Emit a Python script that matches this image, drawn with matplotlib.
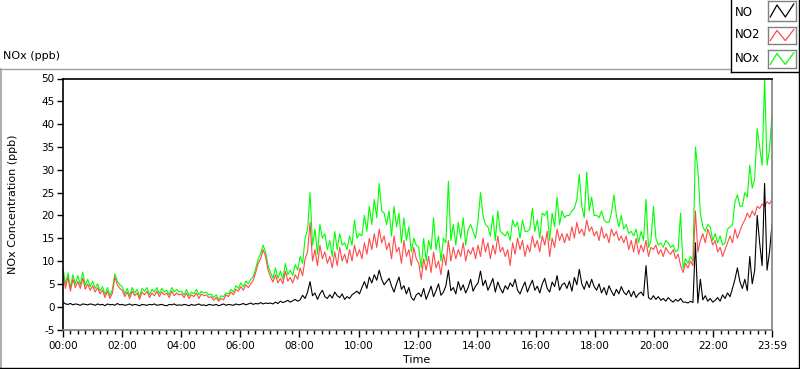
import numpy as np
import matplotlib
matplotlib.use("Agg")
import matplotlib.pyplot as plt
from matplotlib.lines import Line2D

# ---- data (5-minute samples, 12 per hour) ----
no_ppb = [
    1.0,0.6,0.5,0.7,0.4,0.6,0.5,0.3,0.6,0.5,0.4,0.6,
    0.5,0.3,0.6,0.4,0.5,0.2,0.6,0.4,0.5,0.3,0.7,0.4,
    0.5,0.3,0.4,0.6,0.3,0.5,0.4,0.2,0.5,0.4,0.3,0.5,
    0.4,0.6,0.3,0.4,0.5,0.3,0.2,0.5,0.4,0.6,0.3,0.4,
    0.3,0.5,0.4,0.2,0.5,0.3,0.4,0.6,0.3,0.4,0.2,0.5,
    0.4,0.3,0.5,0.2,0.4,0.6,0.3,0.5,0.4,0.3,0.6,0.4,
    0.5,0.7,0.4,0.6,0.8,0.5,0.7,0.6,0.9,0.6,0.8,0.7,
    0.8,0.6,1.0,0.7,1.2,0.9,1.1,1.4,1.0,1.3,1.6,1.2,
    1.5,2.5,1.8,3.2,5.5,2.4,3.0,1.6,2.8,3.6,2.2,1.8,
    2.6,1.9,3.2,2.4,2.0,2.8,1.6,2.2,1.8,2.6,3.0,3.4,
    2.8,4.2,5.5,4.0,6.5,5.2,7.0,5.8,8.0,6.0,4.8,5.5,
    6.2,4.5,3.2,5.0,6.5,3.8,4.6,2.8,4.2,2.0,1.4,2.6,
    3.0,2.2,4.0,1.6,3.0,4.5,2.2,3.5,5.0,2.5,3.2,4.6,
    8.0,3.5,4.2,2.8,5.5,3.6,4.8,3.0,4.2,6.0,3.4,4.5,
    5.2,7.8,4.6,5.8,3.6,4.8,6.2,3.2,5.4,4.0,3.0,4.6,
    3.8,5.2,4.4,6.0,3.6,2.8,4.2,5.4,3.2,4.6,5.8,3.6,
    4.5,3.0,5.0,6.2,4.0,3.2,5.4,4.4,6.8,3.6,4.8,5.2,
    4.0,5.6,3.4,6.4,4.8,8.2,5.0,3.8,5.6,4.2,6.0,4.4,
    3.6,5.0,3.0,4.2,2.6,4.6,3.4,2.4,3.8,2.8,4.4,3.2,
    2.6,3.6,2.2,3.4,2.0,2.8,3.2,2.4,9.0,2.0,1.6,2.4,
    1.6,2.2,1.4,1.8,1.2,2.0,1.4,1.0,1.6,1.2,1.8,1.0,
    1.0,0.8,1.2,0.9,14.0,0.8,6.0,1.5,2.4,1.2,1.8,1.0,
    1.4,2.0,1.2,2.6,1.8,3.0,2.2,4.0,6.0,8.5,5.5,4.0,
    6.0,3.5,11.0,5.0,8.0,20.0,14.0,9.0,27.0,8.0,12.0,18.0,
]

no2_ppb = [
    7.2,4.0,6.5,3.4,6.0,4.2,5.5,4.0,6.2,3.8,5.0,3.6,
    4.6,3.2,4.2,2.8,3.6,2.0,3.4,1.8,3.0,6.5,4.8,4.0,
    3.6,2.2,3.2,1.8,3.4,2.4,3.0,1.6,3.2,2.6,3.4,2.0,
    3.0,2.4,3.4,2.2,3.2,2.6,3.0,2.0,3.4,2.4,3.0,2.6,
    2.8,2.0,3.0,1.8,2.6,2.2,3.0,1.8,2.8,2.4,2.6,2.0,
    2.2,1.4,2.0,1.2,1.8,1.5,2.6,2.2,3.2,2.6,3.8,3.4,
    4.4,3.6,4.8,4.2,5.0,5.8,7.5,9.5,10.5,12.5,11.0,8.0,
    6.5,5.4,7.0,5.2,6.2,5.0,7.8,5.6,6.4,5.2,7.0,6.0,
    8.5,6.8,10.5,12.0,18.5,10.0,12.5,9.0,13.5,10.5,12.0,9.5,
    11.0,8.5,12.0,9.0,13.0,10.0,11.5,9.5,12.5,10.0,13.5,11.0,
    12.5,10.5,14.0,11.5,15.0,12.5,16.0,13.0,17.0,14.0,15.5,12.5,
    14.0,10.5,15.5,12.0,13.0,9.5,14.5,11.0,12.5,9.0,13.0,10.5,
    9.5,6.0,10.5,8.0,11.0,7.5,12.0,8.5,10.0,7.0,11.5,9.0,
    14.5,10.0,13.0,10.5,12.5,11.0,14.0,10.0,12.5,11.5,13.0,10.5,
    13.5,11.0,15.0,12.0,14.0,10.5,13.5,11.5,15.5,12.0,13.0,11.0,
    12.5,9.0,14.0,11.5,15.0,12.5,14.5,11.0,13.5,12.0,15.5,13.0,
    14.5,12.0,15.5,13.5,16.5,11.0,15.0,13.0,17.0,14.5,16.0,14.0,
    16.0,14.5,17.5,15.0,18.5,16.0,17.0,15.5,19.0,16.5,17.5,15.5,
    16.5,14.5,17.5,15.0,16.0,14.0,17.0,15.5,16.5,14.5,15.5,14.0,
    15.5,12.5,14.5,12.0,15.0,11.5,13.5,12.0,14.5,11.0,13.0,12.5,
    13.5,11.5,12.5,11.0,13.0,12.0,11.5,12.5,10.5,11.5,9.0,7.5,
    9.5,8.5,10.0,9.0,21.0,12.0,14.5,16.0,14.0,17.0,15.5,13.5,
    14.5,12.0,13.0,11.0,12.5,14.0,15.5,14.0,17.0,15.0,16.5,18.0,
    19.0,20.5,19.5,21.0,20.0,22.0,21.5,22.5,22.0,23.0,22.5,23.5,
]

nox_ppb = [
    8.6,5.0,7.4,4.2,7.0,5.0,6.8,4.8,7.6,4.6,6.0,4.4,
    5.6,4.0,5.0,3.4,4.4,2.6,4.2,2.4,3.8,7.2,5.6,4.8,
    4.4,2.8,4.0,2.4,4.2,3.0,3.8,2.2,4.0,3.4,4.2,2.6,
    3.8,3.2,4.2,2.8,4.0,3.2,3.6,2.6,4.2,3.2,3.8,3.2,
    3.4,2.6,3.8,2.4,3.2,2.8,3.8,2.6,3.4,3.0,3.2,2.6,
    2.8,2.0,2.6,1.6,2.4,2.2,3.0,2.8,3.8,3.2,4.6,4.0,
    5.2,4.4,5.6,5.0,6.0,6.6,8.4,10.4,11.6,13.5,12.0,9.0,
    7.5,6.2,8.5,6.2,7.8,6.0,9.5,7.0,8.0,6.8,9.2,8.0,
    11.0,9.5,15.0,17.0,25.0,13.5,17.0,11.5,18.0,15.0,16.0,12.5,
    14.5,11.0,16.5,12.5,16.0,13.5,14.0,12.5,15.5,13.5,19.0,15.0,
    16.0,15.5,20.0,16.5,22.0,18.0,23.5,19.5,27.0,21.0,20.5,18.0,
    21.0,15.5,22.0,17.5,20.5,14.0,19.5,14.5,17.5,12.0,15.0,13.5,
    13.0,8.5,15.0,10.0,14.5,12.5,19.5,12.5,15.5,10.0,15.0,14.0,
    27.5,14.5,18.0,13.5,18.5,15.0,19.5,13.5,17.0,18.0,16.5,15.0,
    19.0,25.0,20.0,18.0,17.5,15.5,20.0,14.5,21.0,16.5,16.0,15.5,
    16.5,14.5,19.0,17.5,18.5,15.0,19.0,16.5,16.5,17.0,21.5,16.5,
    19.0,15.0,20.5,20.0,21.0,14.5,20.5,17.5,24.0,18.0,21.0,19.5,
    20.0,20.0,21.0,21.5,23.5,29.0,22.0,19.5,29.5,21.0,24.0,20.0,
    20.0,19.5,21.0,19.0,18.5,18.5,20.5,24.5,20.0,17.5,20.0,17.0,
    18.0,16.0,16.5,15.5,17.0,14.0,16.5,14.5,23.5,13.0,14.5,22.0,
    15.0,13.5,14.0,13.0,14.5,14.0,13.0,13.5,12.0,12.5,20.5,8.5,
    10.5,9.5,11.0,10.0,35.0,30.0,20.5,17.5,16.5,18.0,17.5,14.5,
    16.0,14.0,15.5,13.5,14.0,17.0,17.5,18.0,23.0,24.5,22.0,22.0,
    25.0,24.0,31.0,26.0,28.0,39.0,35.0,31.0,50.0,31.0,34.5,42.0,
]

series_names = ["NO", "NO2", "NOx"]
series_colors = ["#000000", "#ff4a4a", "#00ff00"]
x_tick_minutes = [0, 120, 240, 360, 480, 600, 720, 840, 960, 1080, 1200, 1320, 1439]
x_tick_labels = ["00:00", "02:00", "04:00", "06:00", "08:00", "10:00", "12:00",
                 "14:00", "16:00", "18:00", "20:00", "22:00", "23:59"]
y_ticks = [-5, 0, 5, 10, 15, 20, 25, 30, 35, 40, 45, 50]

minutes = np.linspace(0, 1439, len(no_ppb))

W, H = 800, 369
fig = plt.figure(figsize=(W / 100, H / 100), dpi=100)
fig.patch.set_facecolor("white")

def fx(px):
    return px / W

def fy(py):
    return 1 - py / H

FONT = "DejaVu Sans"

# outer frame
fig.add_artist(Line2D([fx(0), fx(730)], [fy(69), fy(69)], color="#a0a0a0", lw=1.0))
fig.add_artist(Line2D([fx(0.6), fx(0.6)], [fy(69), fy(368)], color="#a0a0a0", lw=1.2))
fig.add_artist(Line2D([fx(0), fx(800)], [fy(367.6), fy(367.6)], color="#000000", lw=1.0))
fig.add_artist(Line2D([fx(799.4), fx(799.4)], [fy(0), fy(368)], color="#000000", lw=1.0))

# title
fig.text(fx(3), fy(56), "NOx (ppb)", fontsize=8, family=FONT, va="center", ha="left")

# main axes
ax = fig.add_axes([fx(63), fy(329.5), fx(772) - fx(63), fy(78.5) - fy(329.5)])
ax.plot(minutes, nox_ppb, color=series_colors[2], lw=0.8)
ax.plot(minutes, no2_ppb, color=series_colors[1], lw=0.8)
ax.plot(minutes, no_ppb, color=series_colors[0], lw=0.8)

ax.set_xlim(0, 1439)
ax.set_ylim(-5, 50)
ax.set_yticks(y_ticks)
ax.set_yticklabels([str(v) for v in y_ticks], fontsize=7.5, family=FONT)
ax.set_xticks(x_tick_minutes)
ax.set_xticklabels(x_tick_labels, fontsize=7.5, family=FONT)
ax.set_xticks(np.arange(0, 1440, 15), minor=True)
ax.tick_params(axis="x", which="major", length=5, width=1, pad=3, colors="black")
ax.tick_params(axis="x", which="minor", length=3, width=1, colors="black")
ax.tick_params(axis="y", which="major", length=4, width=1, pad=2, colors="black")
for s in ["left", "top"]:
    ax.spines[s].set_color("black")
    ax.spines[s].set_linewidth(1.2)
for s in ["right", "bottom"]:
    ax.spines[s].set_color("#808080")
    ax.spines[s].set_linewidth(1.2)

fig.text(fx(417), fy(360), "Time", fontsize=8, family=FONT, ha="center", va="center")
fig.text(fx(13), fy(204), "NOx Concentration (ppb)", fontsize=8, family=FONT,
         ha="center", va="center", rotation=90)

# legend box
fig.add_artist(Line2D([fx(730.5), fx(730.5)], [fy(0), fy(72)], color="black", lw=1.0))
fig.add_artist(Line2D([fx(730.5), fx(800)], [fy(71.7), fy(71.7)], color="black", lw=1.0))
rows = [(1, 21, 12), (27, 44, 35), (50, 68, 59)]
zig_x = [0.08, 0.32, 0.62, 0.92]
zig_y = [0.2, 0.8, 0.2, 0.85]
for name, col, (top, bot, cy) in zip(series_names, series_colors, rows):
    fig.text(fx(735), fy(cy), name, fontsize=8.5, family=FONT, ha="left", va="center")
    sax = fig.add_axes([fx(768), fy(bot), fx(796) - fx(768), fy(top) - fy(bot)])
    sax.plot(zig_x, zig_y, color=col, lw=0.9)
    sax.set_xlim(0, 1)
    sax.set_ylim(0, 1)
    sax.set_xticks([])
    sax.set_yticks([])
    for s in sax.spines.values():
        s.set_color("#808080")
        s.set_linewidth(1.0)

fig.savefig("out.png", dpi=100)
